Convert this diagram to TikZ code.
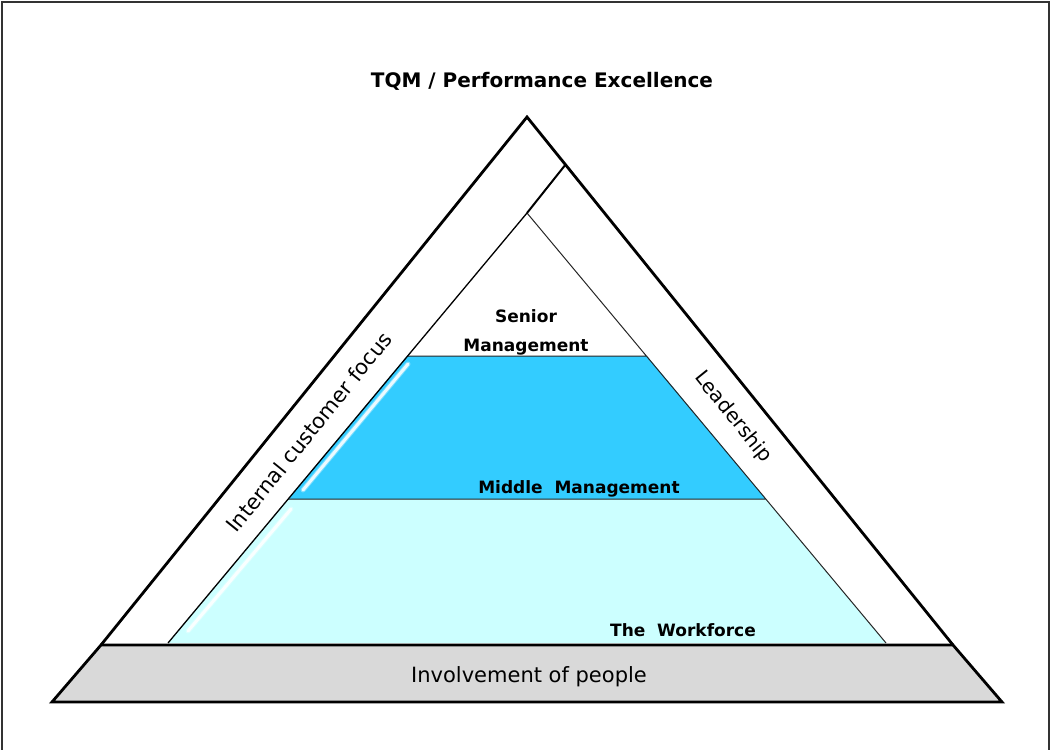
\documentclass[tikz,border=0pt]{standalone}
\usepackage{fontspec}
\setmainfont{DejaVu Sans}
\definecolor{midblue}{HTML}{33CCFF}
\definecolor{workcyan}{HTML}{CCFFFF}
\definecolor{basegrey}{HTML}{D9D9D9}
\begin{document}
\begin{tikzpicture}[x=1pt,y=-1pt,
    edge/.style={line width=2.8pt,line join=miter},
    tier/.style={line width=1pt,draw=black!85},
    lbl/.style={font=\bfseries\fontsize{17}{20}\selectfont,anchor=base},
    side/.style={font=\fontsize{21}{25}\selectfont},
    gleam/.style={white,line width=3pt,line cap=round,opacity=0.85}]
    \useasboundingbox (0,0) rectangle (1051,749);
    \draw[line width=1.8pt,black!80] (2,760) -- (2,2) -- (1049,2) -- (1049,760);

    \coordinate (apex) at (527,117);
    \coordinate (bl) at (52,702);
    \coordinate (br) at (1002,702);
    \coordinate (gl) at (101,645);
    \coordinate (gr) at (953,645);
    \coordinate (fork) at (566,164);
    \coordinate (top) at (527,213);
    \coordinate (sl) at (407,356);
    \coordinate (sr) at (647,356);
    \coordinate (ml) at (288,499);
    \coordinate (mr) at (766,499);
    \coordinate (wl) at (168,643);
    \coordinate (wr) at (886,643);

    % tiers of the pyramid
    \fill[workcyan] (ml) -- (mr) -- (wr) -- (wl) -- cycle;
    \fill[midblue] (sl) -- (sr) -- (mr) -- (ml) -- cycle;
    \draw[gleam,draw=white!60!midblue,line width=5pt,opacity=0.6] (408,364) -- (303,490);
    \draw[gleam] (408,364) -- (303,490);
    \draw[gleam,draw=white!50!workcyan,line width=5pt,opacity=0.6] (291,509) -- (188,631);
    \draw[gleam] (291,509) -- (188,631);
    \draw[tier] (sl) -- (sr)
                (ml) -- (mr)
                (top) -- (wr);
    \draw[line width=2pt] (fork) -- (top);
    \draw[line width=1.3pt] (top) -- (wl);

    % base and outer triangle
    \draw[edge,fill=basegrey] (gl) -- (gr) -- (br) -- (bl) -- cycle;
    \draw[edge] (gl) -- (apex) -- (gr);

    \node[lbl,font=\bfseries\fontsize{20}{24}\selectfont] (title) at (542,88) {TQM / Performance Excellence};
    \node[lbl] (senior) at (526,322) {Senior};
    \node[lbl] (senmgmt) at (526,351) {Management};
    \node[lbl] (middle) at (579,493) {Middle\ \ Management};
    \node[lbl] (work) at (683,636) {The\ \ Workforce};
    \node[side,anchor=base] (people) at (529,682) {Involvement of people};
    \node[side,rotate=51.1] (focus) at (309,432) {Internal customer focus};
    \node[side,rotate=-51.1,font=\fontsize{20}{24}\selectfont] (lead) at (733,417) {Leadership};
\end{tikzpicture}
\end{document}
